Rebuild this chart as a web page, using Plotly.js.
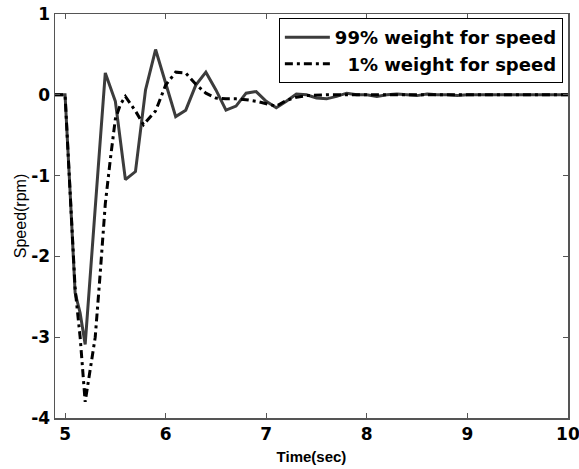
<!DOCTYPE html>
<html>
<head>
<meta charset="utf-8">
<script src="https://cdn.plot.ly/plotly-3.0.1.min.js"></script>
<style>
  html, body { margin: 0; padding: 0; background: #fff; }
  #chart { width: 579px; height: 469px; }
</style>
</head>
<body>
<div id="chart"></div>
<script>
// 99% weight for speed (solid)
const time99 = [4.9, 5.0, 5.05, 5.1, 5.15, 5.2, 5.3, 5.4, 5.5, 5.6, 5.7, 5.8, 5.9, 6.0, 6.1, 6.2, 6.3, 6.4, 6.5, 6.6, 6.7, 6.8, 6.9, 7.0, 7.1, 7.2, 7.3, 7.4, 7.5, 7.6, 7.7, 7.8, 7.9, 8.0, 8.1, 8.2, 8.3, 8.4, 8.5, 8.6, 8.7, 8.8, 8.9, 9.0, 9.2, 9.4, 9.6, 9.8, 10.0];
const speed99 = [0, 0, -1.2, -2.45, -2.7, -3.09, -1.4, 0.27, -0.08, -1.05, -0.95, 0.06, 0.56, 0.15, -0.27, -0.19, 0.12, 0.28, 0.06, -0.19, -0.14, 0.02, 0.04, -0.08, -0.16, -0.08, 0.01, 0.0, -0.04, -0.05, -0.02, 0.02, 0.0, 0.0, -0.02, 0.0, 0.01, 0.0, -0.01, 0.01, 0.0, 0.0, -0.01, 0.0, 0.0, 0.0, 0.0, 0.0, 0.0];

// 1% weight for speed (dash-dot)
const time1 = [4.9, 5.0, 5.05, 5.1, 5.15, 5.2, 5.25, 5.3, 5.35, 5.4, 5.45, 5.5, 5.55, 5.6, 5.7, 5.78, 5.9, 6.0, 6.1, 6.2, 6.3, 6.4, 6.5, 6.6, 6.7, 6.8, 6.9, 7.0, 7.1, 7.2, 7.3, 7.4, 7.6, 7.8, 8.0, 8.2, 8.4, 8.6, 8.8, 9.0, 9.5, 10.0];
const speed1 = [0, 0, -1.2, -2.4, -3.0, -3.8, -3.4, -3.0, -2.2, -1.35, -0.8, -0.3, -0.12, -0.02, -0.2, -0.37, -0.2, 0.12, 0.28, 0.27, 0.13, 0.02, -0.04, -0.05, -0.05, -0.06, -0.08, -0.11, -0.14, -0.07, -0.03, -0.01, 0.0, 0.0, 0.0, 0.0, 0.0, 0.0, 0.0, 0.0, 0.0, 0.0];

const seriesNames = ["99% weight for speed", "\u20071% weight for speed"];
const xTicks = [5, 6, 7, 8, 9, 10];
const yTicks = [1, 0, -1, -2, -3, -4];

const tickFont = { family: "DejaVu Sans", size: 17, color: "#000", weight: "bold" };
const axisColor = "#555";

const traces = [
  {
    x: time99, y: speed99, name: seriesNames[0], type: "scatter", mode: "lines",
    line: { color: "#3c3c3c", width: 3 }
  },
  {
    x: time1, y: speed1, name: seriesNames[1], type: "scatter", mode: "lines",
    line: { color: "#000000", width: 3, dash: "8px,4px,3px,4px" }
  }
];

const layout = {
  width: 579, height: 469,
  margin: { l: 55, r: 11, t: 14, b: 51 },
  paper_bgcolor: "#fff", plot_bgcolor: "#fff",
  showlegend: true,
  legend: {
    x: 0.99, xanchor: "right", y: 0.99, yanchor: "top",
    itemwidth: 45,
    bgcolor: "#fff", bordercolor: "#000", borderwidth: 1,
    font: { family: "DejaVu Sans", size: 18, color: "#000", weight: "bold" }
  },
  xaxis: {
    range: [4.9, 10.0005], tickvals: xTicks, ticktext: xTicks.map(String),
    ticklabeloverflow: "allow",
    ticks: "inside", ticklen: 5, tickcolor: axisColor, tickwidth: 1,
    showline: true, linecolor: axisColor, linewidth: 1.5, mirror: "ticks",
    showgrid: false, zeroline: false, tickfont: tickFont,
    title: { text: "Time(sec)", standoff: 8, font: { family: "Liberation Sans", size: 15, color: "#000", weight: "bold" } }
  },
  yaxis: {
    range: [-4, 1], tickvals: yTicks, ticktext: yTicks.map(String),
    ticklabeloverflow: "allow",
    ticks: "inside", ticklen: 5, tickcolor: axisColor, tickwidth: 1,
    showline: true, linecolor: axisColor, linewidth: 1.5, mirror: "ticks",
    showgrid: false, zeroline: false, tickfont: tickFont,
    title: { text: "Speed(rpm)", standoff: 0, font: { family: "Liberation Sans", size: 16, color: "#000" } }
  }
};

Plotly.newPlot("chart", traces, layout, { displayModeBar: false, staticPlot: true });
</script>
</body>
</html>
